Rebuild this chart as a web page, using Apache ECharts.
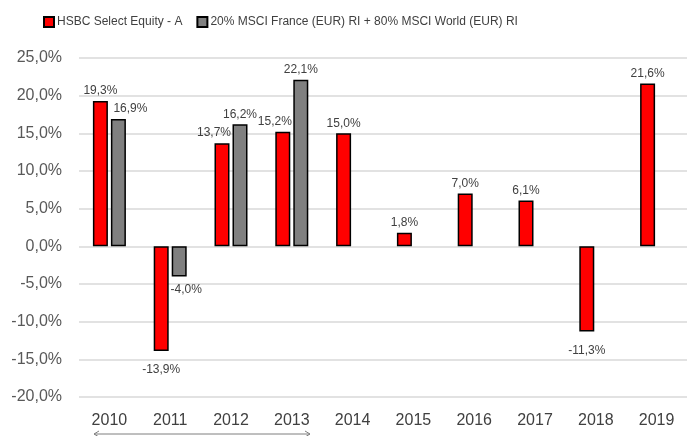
<!DOCTYPE html>
<html>
<head>
<meta charset="utf-8">
<script src="https://cdn.jsdelivr.net/npm/echarts@6/dist/echarts.min.js"></script>
<style>
  html, body { margin: 0; padding: 0; background: #fff; }
  #chart { width: 687px; height: 436px; }
</style>
</head>
<body>
<div id="chart"></div>
<script>
const years = ['2010', '2011', '2012', '2013', '2014', '2015', '2016', '2017', '2018', '2019']
const fundName = 'HSBC Select Equity - A'
const benchName = '20% MSCI France (EUR) RI + 80% MSCI World (EUR) RI'
const fund = [19.3, -13.9, 13.7, 15.2, 15.0, 1.8, 7.0, 6.1, -11.3, 21.6]
const bench = [16.9, -4.0, 16.2, 22.1, null, null, null, null, null, null]

const font = 'Liberation Sans, Arial, sans-serif'
const fmt = v => v.toFixed(1).replace('.', ',') + '%'

// excel shifts a few labels sideways to avoid overlap
const fundShift = { 2: [-8, 0], 3: [-8, 0] }
const benchShift = { 0: [12, 0], 1: [7, -6] }

const toItems = (arr, shift) => arr.map((v, i) => {
  if (v == null) return null
  return {
    value: v,
    label: {
      position: v < 0 ? 'bottom' : 'top',
      distance: v < 0 ? 13 : 4,
      offset: shift[i] || [0, 0]
    }
  }
})

const chart = echarts.init(document.getElementById('chart'))
chart.setOption({
  animation: false,
  textStyle: { fontFamily: font },
  legend: {
    left: 38,
    top: 11,
    itemWidth: 10,
    itemHeight: 10,
    itemGap: 14,
    icon: 'rect',
    textStyle: { fontSize: 12, color: '#404040', padding: [0, 0, 0, -2] },
    data: [fundName, benchName]
  },
  grid: { left: 79, top: 58, width: 610, height: 339 },
  xAxis: {
    type: 'category',
    data: years,
    position: 'bottom',
    axisLine: { show: false },
    axisTick: { show: false },
    axisLabel: { fontSize: 16, color: '#404040', margin: 16 }
  },
  yAxis: {
    type: 'value',
    min: -20,
    max: 25,
    interval: 5,
    axisLine: { show: false },
    axisTick: { show: false },
    axisLabel: { fontSize: 16, color: '#595959', margin: 17, formatter: fmt },
    splitLine: { lineStyle: { color: '#d9d9d9', width: 1.5 } }
  },
  series: [
    {
      name: fundName,
      type: 'bar',
      barWidth: 15,
      barGap: '20%',
      itemStyle: { color: '#ff0000', borderColor: '#000', borderWidth: 1.5 },
      label: { show: true, fontSize: 12, color: '#404040', formatter: p => fmt(p.value) },
      data: toItems(fund, fundShift)
    },
    {
      name: benchName,
      type: 'bar',
      barWidth: 15,
      itemStyle: { color: '#808080', borderColor: '#000', borderWidth: 1.5 },
      label: { show: true, fontSize: 12, color: '#404040', formatter: p => fmt(p.value) },
      data: toItems(bench, benchShift)
    }
  ],
  graphic: [
    {
      type: 'line',
      shape: { x1: 94, y1: 434, x2: 310, y2: 434 },
      style: { stroke: '#7f7f7f', lineWidth: 1 }
    },
    {
      type: 'polyline',
      shape: { points: [[99, 431], [94, 434], [99, 437]] },
      style: { stroke: '#7f7f7f', lineWidth: 1, fill: null }
    },
    {
      type: 'polyline',
      shape: { points: [[305, 431], [310, 434], [305, 437]] },
      style: { stroke: '#7f7f7f', lineWidth: 1, fill: null }
    }
  ]
})
</script>
</body>
</html>
